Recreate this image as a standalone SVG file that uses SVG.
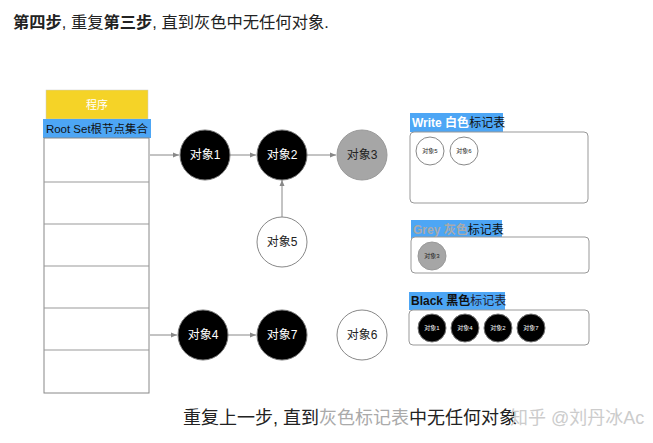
<svg xmlns="http://www.w3.org/2000/svg" width="653" height="443" viewBox="0 0 653 443">
<style>
text{font-family:"Liberation Sans","Noto Sans CJK SC",sans-serif}
.blk{fill:#000;stroke:#777;stroke-width:1}
.wht{fill:#fff;stroke:#888;stroke-width:1}
.gry{fill:#a6a6a6;stroke:#999;stroke-width:1}
.lw{fill:#fff;font-size:12px;text-anchor:middle}
.lb{fill:#222;font-size:12px;text-anchor:middle}
.sw{fill:#fff;font-size:6px;text-anchor:middle}
.sb{fill:#222;font-size:6px;text-anchor:middle}
.edge{stroke:#888;stroke-width:1;fill:none;marker-end:url(#ah)}
.row{stroke:#999;stroke-width:1}
.tbl{fill:#fff;stroke:#888;stroke-width:1}
.lbl{fill:#4da6f5}
.box{fill:#fff;stroke:#999;stroke-width:1}
</style>
<defs>
<marker id="ah" viewBox="0 0 6 6" refX="6" refY="3" markerWidth="6" markerHeight="6" orient="auto">
<path d="M0,0.5 L6,3 L0,5.5 z" fill="#888"/>
</marker>
</defs>
<rect width="653" height="443" fill="#fff"/>
<text x="13" y="28" font-size="16.3" fill="#222"><tspan font-weight="bold">第四步</tspan>, 重复<tspan font-weight="bold">第三步</tspan>, 直到灰色中无任何对象.</text>

<g id="program">
<rect x="46" y="90" width="102" height="29" fill="#f5d327" stroke="#ccc" stroke-width="0.5"/>
<text x="97" y="109" font-size="11" fill="#fff" text-anchor="middle">程序</text>
<rect x="43" y="119" width="108" height="19" fill="#4da6f5"/>
<text x="97" y="133" font-size="11.5" fill="#111" text-anchor="middle">Root Set根节点集合</text>
<rect class="tbl" x="44" y="138" width="105" height="255"/>
<line class="row" x1="44" y1="182" x2="149" y2="182"/>
<line class="row" x1="44" y1="224" x2="149" y2="224"/>
<line class="row" x1="44" y1="266" x2="149" y2="266"/>
<line class="row" x1="44" y1="308" x2="149" y2="308"/>
<line class="row" x1="44" y1="350" x2="149" y2="350"/>
</g>

<g id="connectors">
<line class="edge" x1="150" y1="155" x2="179" y2="155"/>
<line class="edge" x1="230" y1="155" x2="256" y2="155"/>
<line class="edge" x1="307" y1="155" x2="336" y2="155"/>
<line class="edge" x1="282" y1="217" x2="282" y2="180"/>
<line class="edge" x1="150" y1="335" x2="177" y2="335"/>
<line class="edge" x1="228" y1="335" x2="256" y2="335"/>
</g>

<g id="obj1"><circle class="blk" cx="205" cy="155" r="25"/><text class="lw" x="205" y="159">对象1</text></g>
<g id="obj2"><circle class="blk" cx="282" cy="155" r="25"/><text class="lw" x="282" y="159">对象2</text></g>
<g id="obj3"><circle class="gry" cx="362" cy="155" r="25"/><text class="lb" x="362" y="159">对象3</text></g>
<g id="obj5"><circle class="wht" cx="282" cy="242" r="25"/><text class="lb" x="282" y="246">对象5</text></g>
<g id="obj4"><circle class="blk" cx="203" cy="335" r="25"/><text class="lw" x="203" y="339">对象4</text></g>
<g id="obj7"><circle class="blk" cx="282" cy="335" r="25"/><text class="lw" x="282" y="339">对象7</text></g>
<g id="obj6"><circle class="wht" cx="362" cy="335" r="25"/><text class="lb" x="362" y="339">对象6</text></g>

<g id="white-table">
<rect class="lbl" x="410" y="113" width="93" height="19"/>
<text x="412" y="127" font-size="12" font-weight="bold" fill="#fff">Write 白色<tspan font-weight="normal" fill="#111">标记表</tspan></text>
<rect class="box" x="410" y="132" width="178" height="71" rx="4"/>
<circle class="wht" cx="430" cy="151" r="14"/><text class="sb" x="430" y="153">对象5</text>
<circle class="wht" cx="464" cy="151" r="14"/><text class="sb" x="464" y="153">对象6</text>
</g>

<g id="grey-table">
<rect class="lbl" x="411" y="220" width="91" height="19"/>
<text x="413" y="234" font-size="12" font-weight="bold" fill="#aaa">Grey 灰色<tspan font-weight="normal" fill="#111">标记表</tspan></text>
<rect class="box" x="411" y="237" width="178" height="36" rx="4"/>
<circle class="gry" cx="432" cy="256" r="14"/><text class="sb" x="432" y="258">对象3</text>
</g>

<g id="black-table">
<rect class="lbl" x="409" y="292" width="96" height="18"/>
<text x="411" y="305" font-size="12" font-weight="bold" fill="#111">Black 黑色<tspan font-weight="normal" fill="#223">标记表</tspan></text>
<rect class="box" x="409" y="310" width="180" height="35" rx="4"/>
<circle class="blk" cx="432" cy="328" r="14"/><text class="sw" x="432" y="330">对象1</text>
<circle class="blk" cx="465" cy="328" r="14"/><text class="sw" x="465" y="330">对象4</text>
<circle class="blk" cx="498" cy="328" r="14"/><text class="sw" x="498" y="330">对象2</text>
<circle class="blk" cx="531" cy="328" r="14"/><text class="sw" x="531" y="330">对象7</text>
</g>

<text x="183" y="424" font-size="18" fill="#222">重复上一步, 直到<tspan fill="#aaa">灰色标记表</tspan>中无任何对象</text>
<text x="510" y="424" font-size="18" fill="#ccc">知乎 @刘丹冰Ac</text>
</svg>
